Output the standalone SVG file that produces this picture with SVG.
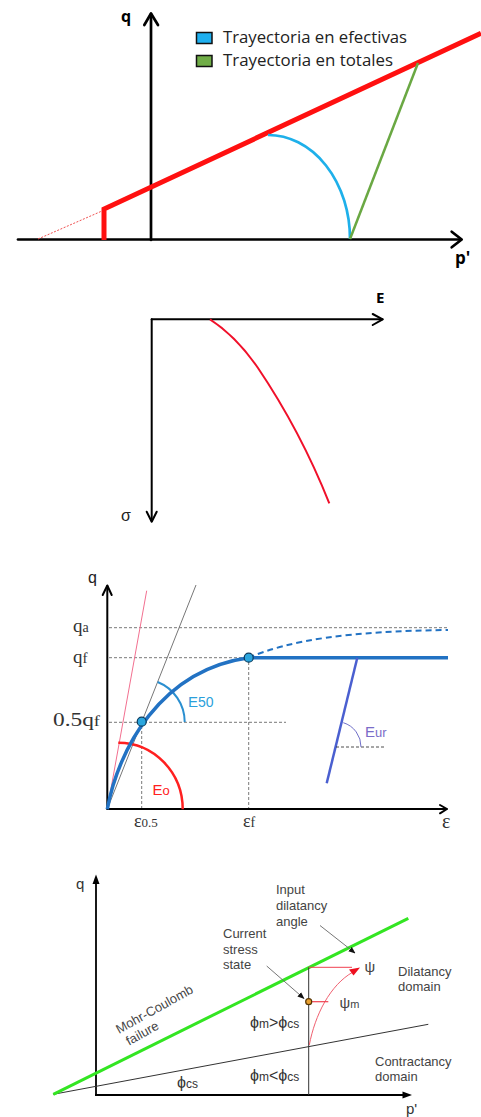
<svg xmlns="http://www.w3.org/2000/svg" width="481" height="1117" viewBox="0 0 481 1117">
<style>
.ax{fill:none;stroke:#000;stroke-linecap:round;stroke-linejoin:round}
.sans{font-family:"Liberation Sans",Arial,sans-serif}
.open{font-family:"Open Sans","Liberation Sans",sans-serif}
.serif{font-family:"Liberation Serif","Times New Roman",serif;fill:#333}
.dash{fill:none;stroke:#555;stroke-width:0.8;stroke-dasharray:3 2}
.lbl4{font-family:"Liberation Sans",Arial,sans-serif;font-size:13px;fill:#444}
</style>
<defs>
<marker id="ah" viewBox="0 0 10 10" refX="9" refY="5" markerWidth="7" markerHeight="7" orient="auto" markerUnits="userSpaceOnUse">
<path d="M0,1 L10,5 L0,9 z" fill="#111"/>
</marker>
</defs>
<rect width="481" height="1117" fill="#fff"/>

<g id="panel1">
  <g id="p1-axes" class="ax" stroke-width="2.7">
    <line x1="151" y1="240" x2="151" y2="14"/>
    <polyline points="144.3,25 151,13.5 158,25"/>
    <line x1="18" y1="239.5" x2="461" y2="239.5"/>
    <polyline points="451.7,231.7 461.7,239.5 451.7,247.3"/>
  </g>
  <text class="open" x="121" y="22" font-size="16" font-weight="bold">q</text>
  <text class="open" x="455" y="264" font-size="17" font-weight="bold">p'</text>
  <line x1="38" y1="239" x2="102" y2="211" stroke="#f05050" stroke-width="1" stroke-dasharray="2 1.5"/>
  <polyline points="104,240 104,209 481,33.3" fill="none" stroke="#ff1010" stroke-width="5"/>
  <path d="M350,239 A82 104 0 0 0 268,135" fill="none" stroke="#1eb0ea" stroke-width="2.7"/>
  <line x1="350" y1="239" x2="418" y2="63" stroke="#6aa843" stroke-width="2.5"/>
  <g id="legend">
    <rect x="196.5" y="32.5" width="15.5" height="11" fill="#1fb0f0" stroke="#111" stroke-width="1.5"/>
    <rect x="196.5" y="55.5" width="15.5" height="11" fill="#70ad47" stroke="#111" stroke-width="1.5"/>
    <text class="open" x="223" y="43" font-size="16" fill="#222" textLength="184" lengthAdjust="spacingAndGlyphs">Trayectoria en efectivas</text>
    <text class="open" x="223" y="66" font-size="16" fill="#222" textLength="170" lengthAdjust="spacingAndGlyphs">Trayectoria en totales</text>
  </g>
</g>

<g id="panel2">
  <g class="ax" stroke-width="2">
    <line x1="151.7" y1="319.3" x2="382.5" y2="319.3"/>
    <polyline points="372.7,314 382.7,319.3 372.7,325"/>
    <line x1="151.7" y1="319.3" x2="151.7" y2="521"/>
    <polyline points="146.7,511.7 151.7,521.7 156.7,511.7"/>
  </g>
  <text class="open" x="376" y="303" font-size="15" font-weight="bold">E</text>
  <text class="sans" x="121" y="521" font-size="16" fill="#222">σ</text>
  <path d="M210,319.3 C228,331 245,349 258,368 C285,408 310,455 329.3,503.3" fill="none" stroke="#f0102a" stroke-width="2"/>
</g>

<g id="panel3">
  <g class="ax" stroke-width="2">
    <line x1="107.3" y1="809" x2="107.3" y2="586"/>
    <polyline points="102.7,595 107.3,585.5 111.7,595"/>
    <line x1="107.3" y1="809" x2="446.5" y2="809"/>
    <polyline points="440,805 447,809 440,813.3"/>
  </g>
  <text class="sans" x="88" y="583" font-size="16" fill="#222">q</text>
  <text class="serif" x="442" y="828" font-size="20">ε</text>
  <line class="dash" x1="109" y1="627.7" x2="448" y2="627.7"/>
  <line class="dash" x1="109" y1="657.7" x2="249" y2="657.7"/>
  <line class="dash" x1="109" y1="722.3" x2="286" y2="722.3"/>
  <line class="dash" x1="141.7" y1="726" x2="141.7" y2="808"/>
  <line class="dash" x1="248.7" y1="662" x2="248.7" y2="808"/>
  <text class="serif" x="73" y="632" font-size="19">q<tspan font-size="14">a</tspan></text>
  <text class="serif" x="73" y="663" font-size="19">q<tspan font-size="15">f</tspan></text>
  <text class="serif" x="53" y="726" font-size="19" textLength="47" lengthAdjust="spacingAndGlyphs">0.5q<tspan font-size="15">f</tspan></text>
  <text class="serif" x="134" y="827" font-size="18">ε<tspan font-size="13">0.5</tspan></text>
  <text class="serif" x="243" y="827" font-size="18">ε<tspan font-size="14">f</tspan></text>
  <line x1="107.3" y1="809" x2="146.7" y2="590.7" stroke="#f27090" stroke-width="1"/>
  <line x1="107.3" y1="809" x2="196" y2="585" stroke="#777" stroke-width="1"/>
  <path d="M118.3,742.7 A64.4 66.6 0 0 1 182.7,809.3" fill="none" stroke="#ff2020" stroke-width="2.5"/>
  <text class="sans" x="152.5" y="795" font-size="15" fill="#ff2020">E<tspan font-size="13">o</tspan></text>
  <path d="M157.6,682 A43 43 0 0 1 184.7,722" fill="none" stroke="#2a8fd0" stroke-width="2"/>
  <text class="sans" x="188" y="707" font-size="15" fill="#2b9fdb">E<tspan font-size="14">50</tspan></text>
  <path d="M248.7,657.7 C290,640 350,631 448,630" fill="none" stroke="#2272c3" stroke-width="2" stroke-dasharray="6 4"/>
  <path d="M107.3,809.3 C118,750 160,670 248.7,657.7 L448,657.7" fill="none" stroke="#2272c3" stroke-width="3.5"/>
  <circle cx="141.7" cy="721.7" r="4.5" fill="#2ba6de" stroke="#0b3a5c" stroke-width="1.2"/>
  <circle cx="248.7" cy="657.7" r="4.5" fill="#2ba6de" stroke="#0b3a5c" stroke-width="1.2"/>
  <line x1="326.7" y1="783.3" x2="357.3" y2="657.7" stroke="#4a5fd0" stroke-width="2.5"/>
  <line x1="336" y1="747" x2="384" y2="747" stroke="#222" stroke-width="0.8" stroke-dasharray="3 2"/>
  <path d="M343.3,722.7 A25 25 0 0 1 361,747" fill="none" stroke="#7070c8" stroke-width="1"/>
  <text class="sans" x="365" y="737" font-size="15" fill="#7a6cc8">E<tspan font-size="13">ur</tspan></text>
</g>

<g id="panel4">
  <g id="p4-axes">
    <line x1="96" y1="1095" x2="96" y2="882" stroke="#000" stroke-width="1.8"/>
    <path d="M96,874.5 L92.5,884 L99.5,884 z" fill="#000"/>
    <line x1="95" y1="1095" x2="404" y2="1095" stroke="#000" stroke-width="1.8"/>
    <path d="M412,1095 L402.5,1091.5 L402.5,1098.5 z" fill="#000"/>
  </g>
  <text class="sans" x="76" y="889" font-size="15" fill="#333">q</text>
  <text class="sans" x="406" y="1114" font-size="15" fill="#333">p'</text>
  <line x1="53.3" y1="1094.3" x2="428.3" y2="1024.3" stroke="#333" stroke-width="1"/>
  <line x1="53.3" y1="1094.3" x2="408.3" y2="918.3" stroke="#33e522" stroke-width="3"/>
  <line x1="308.7" y1="967.3" x2="308.7" y2="1095" stroke="#333" stroke-width="1"/>
  <line x1="308.7" y1="967.3" x2="352" y2="967.3" stroke="#f04050" stroke-width="1"/>
  <path d="M309.3,1045 C315,1015 330,985 353,972" fill="none" stroke="#f06070" stroke-width="1"/>
  <path d="M360,967.5 L349,969.5 L353.5,975.5 z" fill="#ee1020"/>
  <line x1="311.5" y1="1001.7" x2="328.3" y2="1001.7" stroke="#f04050" stroke-width="1.2"/>
  <circle cx="308.7" cy="1001.7" r="3" fill="#e8a030" stroke="#553300" stroke-width="1.2"/>
  <g id="p4-connectors" stroke="#666" stroke-width="0.9" fill="none">
    <line x1="320" y1="925.5" x2="355" y2="953" marker-end="url(#ah)"/>
    <line x1="266.7" y1="966" x2="304" y2="998.5" marker-end="url(#ah)"/>
  </g>
  <text class="lbl4" x="276" y="894">Input</text>
  <text class="lbl4" x="276" y="910">dilatancy</text>
  <text class="lbl4" x="276" y="926">angle</text>
  <text class="lbl4" x="223" y="938">Current</text>
  <text class="lbl4" x="223" y="954">stress</text>
  <text class="lbl4" x="223" y="969">state</text>
  <text class="lbl4" x="398" y="976">Dilatancy</text>
  <text class="lbl4" x="398" y="991">domain</text>
  <text class="lbl4" x="375" y="1066">Contractancy</text>
  <text class="lbl4" x="375" y="1081">domain</text>
  <text class="sans" x="364.5" y="972" font-size="15" fill="#444">ψ</text>
  <text class="sans" x="339.5" y="1008" font-size="15" fill="#444">ψ<tspan font-size="11">m</tspan></text>
  <text class="sans" x="250" y="1028" font-size="16" fill="#333">ϕ<tspan font-size="12">m</tspan>&gt;ϕ<tspan font-size="12">cs</tspan></text>
  <text class="sans" x="250" y="1081" font-size="16" fill="#333">ϕ<tspan font-size="12">m</tspan>&lt;ϕ<tspan font-size="12">cs</tspan></text>
  <text class="sans" x="177" y="1088" font-size="16" fill="#333">ϕ<tspan font-size="12">cs</tspan></text>
  <g transform="translate(119,1034) rotate(-29)">
    <text class="lbl4" x="0" y="0">Mohr-Coulomb</text>
    <text class="lbl4" x="3" y="15">failure</text>
  </g>
</g>
</svg>
